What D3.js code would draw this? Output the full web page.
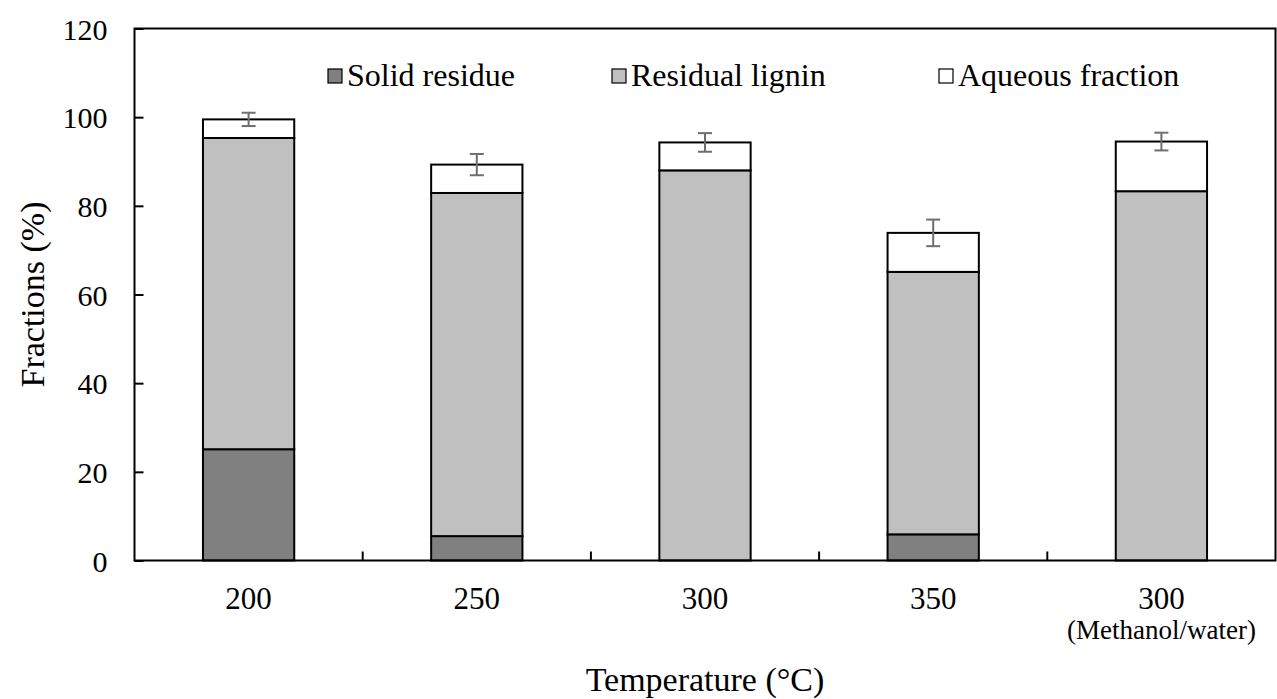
<!DOCTYPE html>
<html>
<head>
<meta charset="utf-8">
<script src="https://cdn.jsdelivr.net/npm/d3@7"></script>
<style>
  body { margin: 0; background: #fff; }
  svg { display: block; }
</style>
</head>
<body>
<svg id="chart" width="1277" height="699"></svg>
<script>
// data
var categories = ["200", "250", "300", "350", "300 (Methanol/water)"]
var solidResidue = [25.1, 5.5, 0, 5.9, 0]
var residualLignin = [70.2, 77.4, 88.0, 59.2, 83.3]
var aqueousFraction = [4.2, 6.4, 6.3, 8.8, 11.2]
var errorValues = [1.5, 2.4, 2.1, 3.0, 2.0]
var yTicks = [0, 20, 40, 60, 80, 100, 120]
var seriesNames = ["Solid residue", "Residual lignin", "Aqueous fraction"]
var seriesColors = ["#808080", "#c0c0c0", "#ffffff"]

var FONT = "Liberation Serif"

var margin = {top: 28.5, right: 1.5, bottom: 138.5, left: 134.5},
    width = 1277 - margin.left - margin.right,
    height = 699 - margin.top - margin.bottom

function label(parent, px, py, size, anchor, txt, rot) {
    return parent.append("text")
        .attr("font-family", FONT)
        .attr("font-size", size)
        .attr("fill", "#000")
        .attr("text-anchor", anchor)
        .attr("transform", "translate(" + px + "," + py + ")" + (rot ? " rotate(" + rot + ")" : ""))
        .text(txt)
}

var svg = d3.select("#chart")
var g = svg.append("g")
    .attr("transform", "translate(" + margin.left + "," + margin.top + ")")

var x = d3.scaleBand()
    .domain(categories)
    .range([0, width])
    .paddingInner(0.6)
    .paddingOuter(0.3)

var y = d3.scaleLinear().domain([0, 120]).range([height, 0])

// stack the three series
var rows = categories.map(function(c, i) {
    return {cat: c, s0: solidResidue[i], s1: residualLignin[i], s2: aqueousFraction[i], err: errorValues[i]}
})
var stack = d3.stack().keys(["s0", "s1", "s2"])
var layers = stack(rows)

// bars
layers.forEach(function(layer, li) {
    g.selectAll(".bar" + li)
        .data(layer.filter(function(d) { return d[1] - d[0] > 0 }))
        .enter().append("rect")
        .attr("class", "bar" + li)
        .attr("x", function(d) { return x(d.data.cat) })
        .attr("width", x.bandwidth())
        .attr("y", function(d) { return y(d[1]) })
        .attr("height", function(d) { return y(d[0]) - y(d[1]) })
        .attr("fill", seriesColors[li])
        .attr("stroke", "#000")
        .attr("stroke-width", 2)
})

// error bars on the top of each stack
var topLayer = layers[2]
var cx = function(d) { return x(d.data.cat) + x.bandwidth() / 2 }
var eb = g.selectAll(".err").data(topLayer).enter().append("g")
    .attr("class", "err")
    .attr("stroke", "#6e6e6e")
    .attr("stroke-width", 2)
eb.append("line")
    .attr("x1", cx)
    .attr("x2", cx)
    .attr("y1", function(d) { return y(d[1] + d.data.err) })
    .attr("y2", function(d) { return y(d[1] - d.data.err) })
;[1, -1].forEach(function(sgn) {
    eb.append("line")
        .attr("x1", function(d) { return cx(d) - 7 })
        .attr("x2", function(d) { return cx(d) + 7 })
        .attr("y1", function(d) { return y(d[1] + sgn * d.data.err) })
        .attr("y2", function(d) { return y(d[1] + sgn * d.data.err) })
})

// frame
g.append("rect")
    .attr("width", width).attr("height", height)
    .attr("fill", "none").attr("stroke", "#000").attr("stroke-width", 2)

// y axis, ticks pointing inward
var yAxis = d3.axisLeft(y).tickValues(yTicks).tickSize(-9).tickFormat("")
var ya = g.append("g").call(yAxis)
ya.select(".domain").remove()
ya.selectAll(".tick line").attr("stroke", "#000").attr("stroke-width", 2)
ya.selectAll(".tick text").remove()
ya.selectAll(".tick").each(function(d) {
    label(d3.select(this), -27, 10.5, 30, "end", d)
})

// x axis: ticks between the categories
var step = x.step()
var boundaries = d3.range(1, categories.length).map(function(i) { return i * step })
g.selectAll(".xtick").data(boundaries).enter().append("line")
    .attr("x1", function(d) { return d }).attr("x2", function(d) { return d })
    .attr("y1", height).attr("y2", height - 9)
    .attr("stroke", "#000").attr("stroke-width", 2)

categories.forEach(function(c) {
    var parts = c.split(" ")
    var mx = x(c) + x.bandwidth() / 2
    label(g, mx, height + 48, 31, "middle", parts[0])
    if (parts[1]) label(g, mx, height + 78, 27, "middle", parts[1])
})

// axis titles
label(svg, margin.left + width / 2, 691, 34, "middle", "Temperature (°C)")
label(svg, 44, margin.top + height / 2, 34, "middle", "Fractions (%)", -90)

// legend
var legendX = [328, 612, 939]
var legend = svg.selectAll(".legend").data(seriesNames).enter().append("g")
    .attr("transform", function(d, i) { return "translate(" + legendX[i] + ",69)" })
legend.append("rect")
    .attr("width", 14).attr("height", 14)
    .attr("fill", function(d, i) { return seriesColors[i] })
    .attr("stroke", "#000").attr("stroke-width", 1.2)
legend.each(function(d) {
    label(d3.select(this), 19, 17, 32, "start", d)
})
</script>
</body>
</html>
